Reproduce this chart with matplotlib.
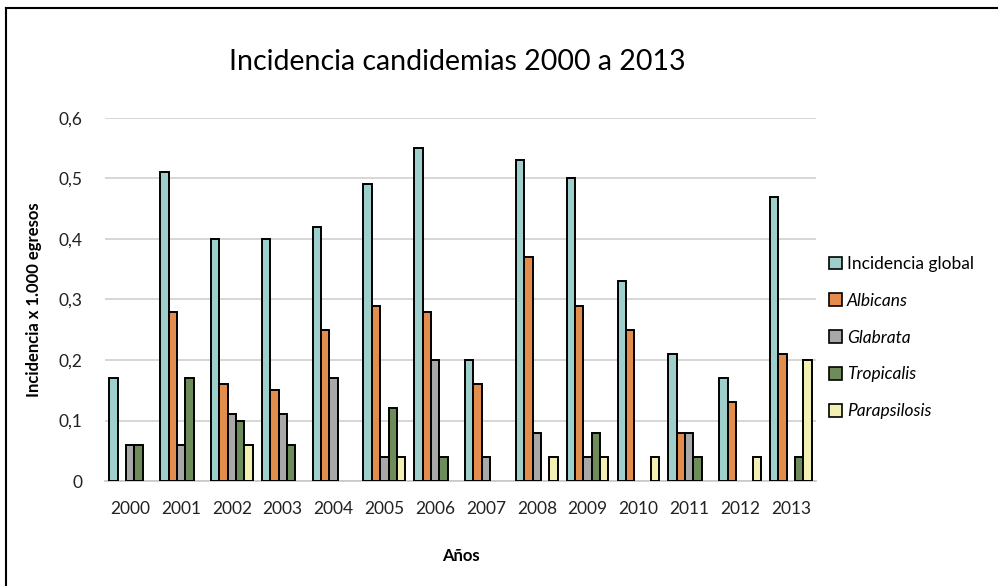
import numpy as np
import matplotlib.pyplot as plt
from matplotlib.lines import Line2D

plt.rcParams['font.family'] = ['Lato', 'DejaVu Sans']

years = ["2000", "2001", "2002", "2003", "2004", "2005", "2006",
         "2007", "2008", "2009", "2010", "2011", "2012", "2013"]
series_names = ["Incidencia global", "Albicans", "Glabrata", "Tropicalis", "Parapsilosis"]

global_inc = [0.17, 0.51, 0.40, 0.40, 0.42, 0.49, 0.55, 0.20, 0.53, 0.50, 0.33, 0.21, 0.17, 0.47]
albicans = [0.00, 0.28, 0.16, 0.15, 0.25, 0.29, 0.28, 0.16, 0.37, 0.29, 0.25, 0.08, 0.13, 0.21]
glabrata = [0.06, 0.06, 0.11, 0.11, 0.17, 0.04, 0.20, 0.04, 0.08, 0.04, 0.00, 0.08, 0.00, 0.00]
tropicalis = [0.06, 0.17, 0.10, 0.06, 0.00, 0.12, 0.04, 0.00, 0.00, 0.08, 0.00, 0.04, 0.00, 0.04]
parapsilosis = [0.00, 0.00, 0.06, 0.00, 0.00, 0.04, 0.00, 0.00, 0.04, 0.04, 0.04, 0.00, 0.04, 0.20]

colors = ["#9fcfca", "#e38d4c", "#a8a8a8", "#6e8c5a", "#f3f0b4"]

fig = plt.figure(figsize=(9.98, 5.86), dpi=100)
ax = fig.add_axes([0.105, 0.179, 0.713, 0.620])

x = np.arange(len(years))
w = 0.164
all_series = [global_inc, albicans, glabrata, tropicalis, parapsilosis]
handles = []
for i, (vals, c) in enumerate(zip(all_series, colors)):
    vals = np.array(vals)
    pos = x + (i - 2) * w
    mask = vals > 0
    ax.bar(pos[mask], vals[mask], width=w, color=c, edgecolor="black", linewidth=1.4, zorder=3)
    handles.append(plt.Rectangle((0, 0), 1, 1, facecolor=c, edgecolor="black", linewidth=1.2))

ax.set_xlim(-0.5, len(years) - 0.5)
ax.set_ylim(0, 0.6)
ax.set_yticks(np.arange(0, 0.61, 0.1))
ax.set_yticklabels(["0", "0,1", "0,2", "0,3", "0,4", "0,5", "0,6"])
ax.set_xticks(x)
ax.set_xticklabels(years)
ax.tick_params(length=0, labelsize=12.5, colors="#222222")
ax.tick_params(axis="x", pad=14)
ax.tick_params(axis="y", pad=16)
ax.yaxis.grid(True, color="#d0d0d0", linewidth=1.2, zorder=0)
for s in ["top", "right", "left"]:
    ax.spines[s].set_visible(False)
ax.spines["bottom"].set_color("#c8c8c8")
ax.spines["bottom"].set_linewidth(1.2)

ax.set_ylabel("Incidencia x 1.000 egresos", fontsize=12, fontweight="bold", labelpad=12)
ax.set_xlabel("Años", fontsize=12, fontweight="bold", labelpad=23)
fig.text(0.458, 0.895, "Incidencia candidemias 2000 a 2013", ha="center", va="center", fontsize=20.5)

leg = ax.legend(handles, series_names, loc="center left", bbox_to_anchor=(1.0, 0.395),
                frameon=False, fontsize=12.5, handlelength=0.75, handleheight=0.75,
                handletextpad=0.3, labelspacing=1.2, borderaxespad=0.3)
for t in leg.get_texts()[1:]:
    t.set_fontstyle("italic")

fig.add_artist(Line2D([0.006, 1.0], [0.986, 0.986], color="black", linewidth=1.5, transform=fig.transFigure))
fig.add_artist(Line2D([0.006, 0.006], [0.0, 0.986], color="black", linewidth=1.5, transform=fig.transFigure))

fig.savefig("out.png", dpi=100)
